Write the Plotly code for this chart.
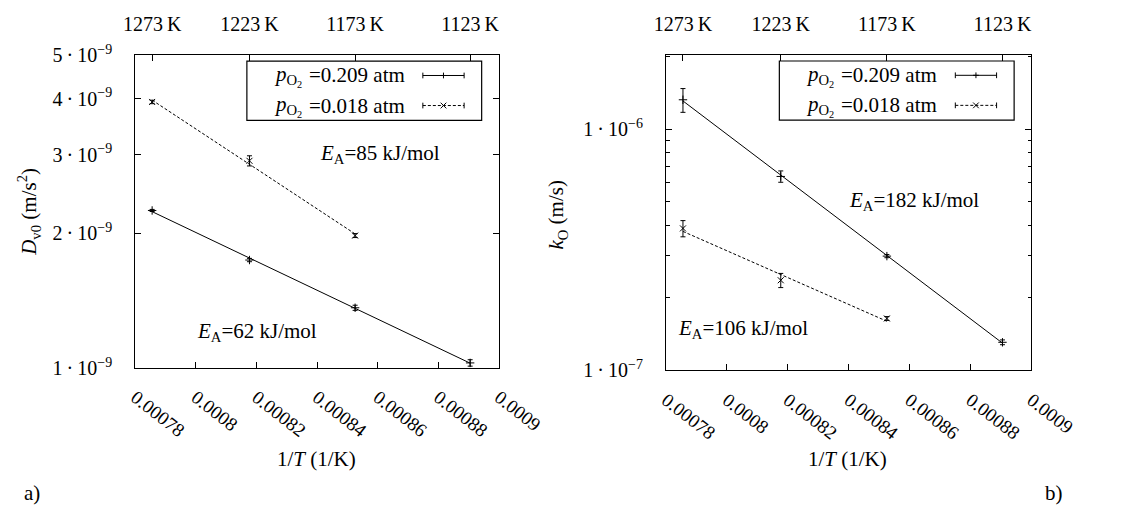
import numpy as np
import plotly.graph_objects as go

# ---------------------------------------------------------------- data
temps_K = [1273, 1223, 1173, 1123]
temps_low_K = [1273, 1223, 1173]

# a) D_v0 (m/s^2)
dv0_high = [2.250e-9, 1.743e-9, 1.363e-9, 1.026e-9]
dv0_high_err = [0.012e-9, 0.015e-9, 0.018e-9, 0.017e-9]
dv0_low = [3.935e-9, 2.906e-9, 1.977e-9]
dv0_low_err = [0.035e-9, 0.076e-9, 0.020e-9]

# b) k_O (m/s)
ko_high = [1.327e-6, 6.38e-7, 2.981e-7, 1.309e-7]
ko_high_err = [1.50e-7, 3.45e-8, 4.5e-9, 3.0e-9]
ko_low = [3.884e-7, 2.367e-7, 1.643e-7]
ko_low_err = [3.0e-8, 1.6e-8, 3.0e-9]

series_labels = ["0.209", "0.018"]
activation_labels_a = ["62", "85"]
activation_labels_b = ["182", "106"]

x_tick_vals = [0.00078, 0.0008, 0.00082, 0.00084, 0.00086, 0.00088, 0.0009]
x_tick_text = ["0.00078", "0.0008", "0.00082", "0.00084", "0.00086", "0.00088", "0.0009"]
top_tick_text = [f"{t}\u2009K" for t in temps_K]

dv0_tick_vals = [1e-9, 2e-9, 3e-9, 4e-9, 5e-9]
dv0_tick_text = [f"{m}\u2009·\u200910<sup>−9</sup>" for m in (1, 2, 3, 4, 5)]
ko_tick_vals = [1e-7, 1e-6]
ko_tick_text = ["1\u2009·\u200910<sup>−7</sup>", "1\u2009·\u200910<sup>−6</sup>"]
ko_minor_vals = [m * 1e-7 for m in range(2, 10)] + [2e-6]

# ---------------------------------------------------------------- geometry
W, H = 1129, 522
FONT = "Liberation Serif"
FS = 20
FS_TXT = 21


def px(x):
    return x / W


def py(y):
    return 1 - y / H


panels = {
    "a": dict(x0=130.0, x1=513.4, y0=44.5, y1=372.0),
    "b": dict(x0=689.5, x1=1074.7, y0=44.3, y1=374.7),
}

inv_T = [1.0 / t for t in temps_K]
inv_T_low = [1.0 / t for t in temps_low_K]


def arrhenius_line(x, y):
    coef = np.polyfit(x, np.log10(y), 1)
    xs = np.array([min(x), max(x)])
    return xs, 10 ** np.polyval(coef, xs)


fig = go.Figure()


def add_panel(xa, ya, hi, hi_err, lo, lo_err):
    # fitted Arrhenius lines
    xs, ys = arrhenius_line(inv_T, hi)
    fig.add_trace(go.Scatter(x=xs, y=ys, mode="lines", xaxis=xa, yaxis=ya,
                             line=dict(color="black", width=1), showlegend=False,
                             hoverinfo="skip"))
    xs, ys = arrhenius_line(inv_T_low, lo)
    fig.add_trace(go.Scatter(x=xs, y=ys, mode="lines", xaxis=xa, yaxis=ya,
                             line=dict(color="black", width=1, dash="3px,2px"),
                             showlegend=False, hoverinfo="skip"))
    # measured points with error bars
    fig.add_trace(go.Scatter(x=inv_T, y=hi, mode="markers", xaxis=xa, yaxis=ya,
                             marker=dict(symbol="cross-thin", size=6,
                                         line=dict(color="black", width=1)),
                             error_y=dict(type="data", array=hi_err, width=2.5,
                                          thickness=1, color="black"),
                             showlegend=False))
    fig.add_trace(go.Scatter(x=inv_T_low, y=lo, mode="markers", xaxis=xa, yaxis=ya,
                             marker=dict(symbol="x-thin", size=6,
                                         line=dict(color="black", width=1)),
                             error_y=dict(type="data", array=lo_err, width=2.5,
                                          thickness=1, color="black"),
                             showlegend=False))


add_panel("x", "y", dv0_high, dv0_high_err, dv0_low, dv0_low_err)
add_panel("x2", "y2", ko_high, ko_high_err, ko_low, ko_low_err)

axis_font = dict(family=FONT, size=FS, color="black")
common_x = dict(range=[0.00078, 0.0009], tickvals=x_tick_vals, ticktext=x_tick_text,
                tickangle=38, ticks="inside", ticklen=6, tickcolor="black",
                showline=True, linecolor="black", linewidth=1.3, mirror=True,
                showgrid=False, zeroline=False,
                tickfont=dict(family=FONT, size=19, color="black"),
                ticklabelstandoff=10)
common_top = dict(range=[0.00078, 0.0009], tickvals=inv_T, ticktext=top_tick_text,
                  side="top", ticks="inside", ticklen=6, tickcolor="black",
                  showline=False, showgrid=False, zeroline=False,
                  tickfont=axis_font, ticklabelstandoff=19)
common_y = dict(type="log", ticks="inside", ticklen=6, tickcolor="black",
                showline=True, linecolor="black", linewidth=1.3, mirror="ticks",
                showgrid=False, zeroline=False, tickfont=axis_font,
                ticklabelstandoff=18)

pa, pb = panels["a"], panels["b"]
fig.update_layout(
    width=W, height=H, margin=dict(l=0, r=0, t=0, b=0),
    paper_bgcolor="white", plot_bgcolor="white", showlegend=False,
    font=dict(family=FONT, size=FS, color="black"),
    xaxis=dict(domain=[px(pa["x0"]), px(pa["x1"])], anchor="y", **common_x),
    yaxis=dict(domain=[py(pa["y1"]), py(pa["y0"])], anchor="x",
               range=[-9, np.log10(5e-9)], tickvals=dv0_tick_vals,
               ticktext=dv0_tick_text, **common_y),
    xaxis3=dict(overlaying="x", anchor="y", **common_top),
    xaxis2=dict(domain=[px(pb["x0"]), px(pb["x1"])], anchor="y2", **common_x),
    yaxis2=dict(domain=[py(pb["y1"]), py(pb["y0"])], anchor="x2",
                range=[-7, np.log10(2.03e-6)], tickvals=ko_tick_vals,
                ticktext=ko_tick_text,
                minor=dict(tickvals=ko_minor_vals, ticks="inside", ticklen=3.5,
                           tickcolor="black"),
                **common_y),
    xaxis4=dict(overlaying="x2", anchor="y2", **common_top),
)

# empty traces so the top temperature axes get drawn
fig.add_trace(go.Scatter(x=[None], y=[None], xaxis="x3", yaxis="y", showlegend=False))
fig.add_trace(go.Scatter(x=[None], y=[None], xaxis="x4", yaxis="y2", showlegend=False))

shapes = []
annotations = []


def text(x, y, s, xanchor="center", yanchor="middle", angle=0, size=FS_TXT):
    annotations.append(dict(x=px(x), y=py(y), xref="paper", yref="paper", text=s,
                            showarrow=False, xanchor=xanchor, yanchor=yanchor,
                            textangle=angle, borderpad=0,
                            font=dict(family=FONT, size=size, color="black")))


def seg(x0, y0, x1, y1, dash="solid"):
    shapes.append(dict(type="line", xref="paper", yref="paper",
                       x0=px(x0), y0=py(y0), x1=px(x1), y1=py(y1),
                       line=dict(color="black", width=1, dash=dash)))


def legend(p):
    right = p["x1"] - 18.3
    left = right - 247.5
    top = p["y0"] + 6
    bottom = top + 62
    shapes.append(dict(type="rect", xref="paper", yref="paper",
                       x0=px(left), x1=px(right), y0=py(bottom), y1=py(top),
                       fillcolor="white", line=dict(color="black", width=1.2),
                       layer="above"))
    rows = [top + 15, top + 46.5]
    s0, s1 = right - 62, right - 18.5
    for i, (row, lab) in enumerate(zip(rows, series_labels)):
        text(right - 220, row + 1, "<i>p</i><sub>O<sub>2</sub></sub>", xanchor="left")
        text(right - 80, row, "=" + lab + " atm", xanchor="right")
        seg(s0, row, s1, row, dash="solid" if i == 0 else "3px,2px")
        seg(s0, row - 3, s0, row + 3)
        seg(s1, row - 3, s1, row + 3)
        xm = (s0 + s1) / 2
        if i == 0:
            seg(xm - 3, row, xm + 3, row)
            seg(xm, row - 3, xm, row + 3)
        else:
            seg(xm - 3, row - 3, xm + 3, row + 3)
            seg(xm - 3, row + 3, xm + 3, row - 3)


legend(pa)
legend(pb)

# activation energies
text(323.2, 148, f"<i>E</i><sub>A</sub>={activation_labels_a[1]} kJ/mol", xanchor="left")
text(193.9, 334, f"<i>E</i><sub>A</sub>={activation_labels_a[0]} kJ/mol", xanchor="left")
text(881.8, 197.5, f"<i>E</i><sub>A</sub>={activation_labels_b[0]} kJ/mol", xanchor="left")
text(701.5, 331.5, f"<i>E</i><sub>A</sub>={activation_labels_b[1]} kJ/mol", xanchor="left")

# axis titles
text(321.4, 468, "1/<i>T</i> (1/K)")
text(881.0, 468, "1/<i>T</i> (1/K)")
text(18.0, 208.3, "<i>D</i><sub>v0</sub> (m/s<sup>2</sup>)", angle=-90)
text(575.0, 210.8, "<i>k</i><sub>O</sub> (m/s)", angle=-90)

# panel letters
text(21, 503, "a)")
text(1098.7, 503, "b)")

fig.update_layout(shapes=shapes, annotations=annotations)
fig.write_html("out.html")
